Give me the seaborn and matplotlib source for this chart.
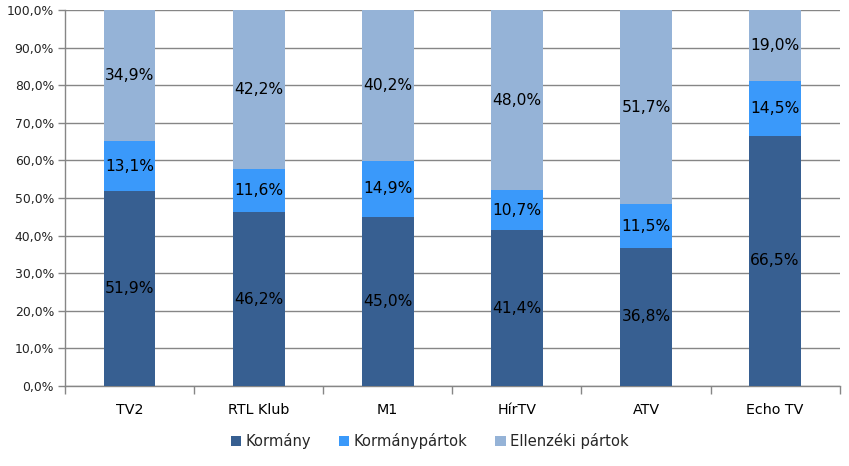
import matplotlib
matplotlib.use("Agg")
import matplotlib.pyplot as plt
import seaborn as sns
import numpy as np
import pandas as pd
from matplotlib.patches import Patch

channels = ["TV2", "RTL Klub", "M1", "HírTV", "ATV", "Echo TV"]
kormany = [51.9, 46.2, 45.0, 41.4, 36.8, 66.5]
kormanypartok = [13.1, 11.6, 14.9, 10.7, 11.5, 14.5]
ellenzeki = [34.9, 42.2, 40.2, 48.0, 51.7, 19.0]
series_names = ["Kormány", "Kormánypártok", "Ellenzéki pártok"]
colors = ["#375f91", "#3a99fa", "#95b3d7"]
yticks = [0, 10, 20, 30, 40, 50, 60, 70, 80, 90, 100]

sns.set_theme(style="white")
plt.rcParams['font.family'] = ['DejaVu Sans']

fig = plt.figure(figsize=(8.49, 4.66), dpi=100)
ax = fig.add_axes([0.0766, 0.1717, 0.9124, 0.8068])

raw = np.array([kormany, kormanypartok, ellenzeki])
totals = raw.sum(axis=0)
norm = raw / totals * 100

bottom = np.zeros(len(channels))
for i, name in enumerate(series_names):
    df = pd.DataFrame({"channel": channels, "value": norm[i]})
    sns.barplot(data=df, x="channel", y="value", color=colors[i], width=0.4,
                bottom=bottom.copy(), ax=ax, saturation=1, zorder=3, linewidth=0)
    for j in range(len(channels)):
        ax.text(j, bottom[j] + norm[i][j] / 2, f"{raw[i][j]:.1f}%".replace(".", ","),
                ha="center", va="center", fontsize=11.2, color="black", zorder=5)
    bottom += norm[i]

ax.set_ylim(0, 100)
ax.set_xlim(-0.5, len(channels) - 0.5)
ax.set_yticks(yticks)
ax.set_yticklabels([f"{v:.1f}%".replace(".", ",") for v in yticks], fontsize=8.9, color="#222222")
ax.set_xlabel("")
ax.set_ylabel("")
ax.tick_params(axis="x", labelsize=10.3, colors="#000000", length=0, pad=12)
ax.tick_params(axis="y", length=5, width=1, color="#868686", pad=3, left=True)
ax.set_xticks(np.arange(-0.5, len(channels), 1.0), minor=True)
ax.tick_params(axis="x", which="minor", length=6, width=1, color="#868686", bottom=True)
ax.grid(axis="y", color="#868686", linewidth=1, zorder=0)
ax.set_axisbelow(True)
for s in ["top", "right"]:
    ax.spines[s].set_visible(False)
for s in ["left", "bottom"]:
    ax.spines[s].set_color("#868686")
    ax.spines[s].set_linewidth(1)

handles = [Patch(facecolor=c, edgecolor="none") for c in colors]
fig.legend(handles, series_names, loc="center", bbox_to_anchor=(0.506, 0.054), ncol=3,
           frameon=False, fontsize=10.6, handlelength=0.7, handleheight=0.7,
           handletextpad=0.3, columnspacing=1.9)

fig.savefig("out.png", dpi=100)
